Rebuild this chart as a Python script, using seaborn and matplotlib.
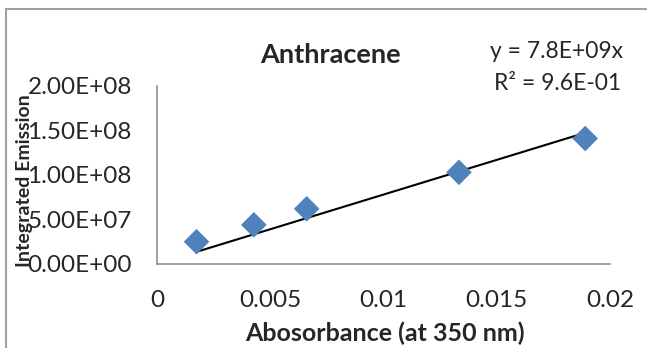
import numpy as np
import pandas as pd
import matplotlib
matplotlib.use("Agg")
import matplotlib.pyplot as plt
from matplotlib.patches import Rectangle
import seaborn as sns

# Data
absorbance = [0.00175, 0.00428, 0.00661, 0.01333, 0.0189]
emission = [2.5e7, 4.4e7, 6.2e7, 1.03e8, 1.41e8]
x_ticks = [0, 0.005, 0.01, 0.015, 0.02]
x_tick_labels = ['0', '0.005', '0.01', '0.015', '0.02']
y_ticks = [0, 5e7, 1e8, 1.5e8, 2e8]
y_tick_labels = ['0.00E+00', '5.00E+07', '1.00E+08', '1.50E+08', '2.00E+08']

sns.set_style('white')
plt.rcParams['font.family'] = ['Lato', 'DejaVu Sans']

df = pd.DataFrame({'absorbance': absorbance, 'emission': emission})

# linear trendline forced through origin
x = np.array(absorbance)
y = np.array(emission)
slope = (x * y).sum() / (x * x).sum()
trend = pd.DataFrame({'absorbance': [x.min(), x.max()],
                      'emission': [slope * x.min(), slope * x.max()]})

fig = plt.figure(figsize=(6.47, 3.48), dpi=100)
ax = fig.add_axes([0.2424, 0.2414, 0.7006, 0.5115])

sns.lineplot(data=trend, x='absorbance', y='emission', color='black', lw=1.5, ax=ax)
sns.scatterplot(data=df, x='absorbance', y='emission', marker='D', s=170,
                color='#4F81BD', edgecolor='none', ax=ax, zorder=3)

ax.set_xlim(0, 0.02)
ax.set_ylim(0, 2e8)
ax.set_xticks(x_ticks)
ax.set_xticklabels(x_tick_labels, fontsize=17.5)
ax.set_yticks(y_ticks)
ax.set_yticklabels(y_tick_labels, fontsize=17.5)
ax.tick_params(length=0)
ax.tick_params(axis='x', pad=19)
ax.tick_params(axis='y', pad=18)

for s in ['top', 'right']:
    ax.spines[s].set_visible(False)
for s in ['left', 'bottom']:
    ax.spines[s].set_color('#909090')
    ax.spines[s].set_linewidth(1.2)

ax.set_xlabel('')
ax.set_ylabel('')
fig.text(385 / 647, 1 - 333 / 348, 'Abosorbance (at 350 nm)', fontsize=18,
         fontweight='bold', ha='center', va='center')
fig.text(25 / 647, 1 - 181 / 348, 'Integrated Emission', rotation=90,
         fontsize=14, fontweight='bold', ha='center', va='center')

fig.text(330 / 647, 1 - 55 / 348, 'Anthracene', fontsize=19.5, fontweight='bold',
         ha='center', va='center')
fig.text(623 / 647, 1 - 52 / 348, 'y = 7.8E+09x', fontsize=16.5,
         ha='right', va='center')
fig.text(621 / 647, 1 - 84 / 348, 'R² = 9.6E-01', fontsize=16.5,
         ha='right', va='center')

# chart area border (cropped at right/bottom)
fig.patches.append(Rectangle((6 / 647, -0.1), 1.2, 1 - 9 / 348 + 0.1,
                             transform=fig.transFigure, fill=False,
                             edgecolor='#a0a0a0', lw=1.5))

fig.savefig('out.png', dpi=100)
